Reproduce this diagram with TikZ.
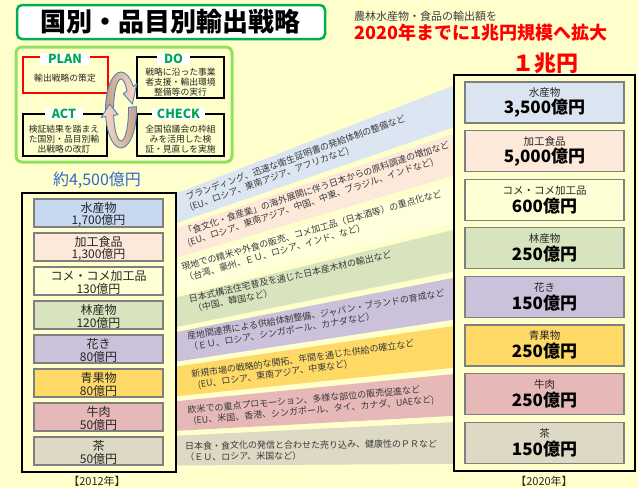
\documentclass[tikz,border=0pt]{standalone}
\usepackage{fontspec}
\setmainfont{Noto Sans CJK JP}
\usetikzlibrary{calc}
\definecolor{bgy}{HTML}{FFFFCC}
\definecolor{bxg}{HTML}{7F7F7F}
\definecolor{txtd}{HTML}{262626}
\definecolor{txtm}{HTML}{3A3A3A}
\definecolor{titleg}{HTML}{00B050}
\definecolor{pdcag}{HTML}{92E060}
\definecolor{pgreen}{HTML}{00A651}
\definecolor{redt}{HTML}{FF0000}
\definecolor{bluet}{HTML}{3366CC}
\definecolor{arrdark}{HTML}{C4A088}
\definecolor{arrlight}{HTML}{FBDCCB}
\definecolor{arrblue}{HTML}{4F81BD}
\definecolor{c1}{HTML}{C6D9F1}
\definecolor{c1r}{HTML}{DBE5F1}
\definecolor{c2}{HTML}{FDE9D9}
\definecolor{c3}{HTML}{FFFFD5}
\definecolor{c4}{HTML}{D7E4BD}
\definecolor{c5}{HTML}{CCC1DA}
\definecolor{c6}{HTML}{FFD966}
\definecolor{c7}{HTML}{E6B9B8}
\definecolor{c8}{HTML}{DDD9C4}
\definecolor{k1}{HTML}{DCE6F2}
\definecolor{k2}{HTML}{FDE9D9}
\definecolor{k3}{HTML}{FFFFDC}
\definecolor{k4}{HTML}{D8E4BE}
\definecolor{k5}{HTML}{CCC1DA}
\definecolor{k6}{HTML}{FFD966}
\definecolor{k7}{HTML}{E6B9B8}
\definecolor{k8}{HTML}{DDD9C4}
\pgfdeclarelayer{bgl}
\pgfdeclarelayer{bandl}
\pgfdeclarelayer{framel}
\pgfsetlayers{bgl,bandl,framel,main}
\newcommand\mklbox[5]{%
  \node[lbox, fill=#3] (#1) at (98.5,#2+14) {};
  \node[ltxt] (#1n) at (98.5,#2+9) {#4};
  \node[ltxt] (#1a) at (98.5,#2+22) {#5};
}
\newcommand\mkrbox[5]{%
  \node[rbox, fill=#3] (#1) at (544.5,#2+20.5) {};
  \node[rname] (#1n) at (544.5,#2+11) {#4};
  \node[ramt] (#1a) at (544.5,#2+26.5) {#5};
}
\begin{document}
\begin{tikzpicture}[x=1pt,y=-1pt,
  lbox/.style={draw=bxg, line width=1.1pt, minimum width=129pt, minimum height=28pt, inner sep=0pt},
  rbox/.style={draw=bxg, line width=1.3pt, minimum width=159pt, minimum height=41pt, inner sep=0pt},
  ltxt/.style={inner sep=0pt, font=\fontsize{12}{12}\selectfont, text=txtd},
  rname/.style={inner sep=0pt, font=\fontsize{10.5}{10.5}\selectfont, text=txtd},
  ramt/.style={inner sep=0pt, font=\bfseries\fontsize{17}{17}\selectfont, text=black},
  btxt/.style={inner sep=0pt, anchor=west, align=left, font=\fontsize{9}{11}\selectfont, text=txtm},
  pbox/.style={draw=black, line width=1.2pt, fill=bgy, inner sep=0pt},
  ptxt/.style={inner sep=0pt, align=center, font=\fontsize{8.8}{10}\selectfont, text=txtd},
  plab/.style={fill=white, inner sep=0pt, minimum height=12pt, font=\bfseries\fontsize{12.5}{12.5}\selectfont, text=pgreen},
  colframe/.style={draw=black, line width=1.1pt, fill=bgy},
  yeartxt/.style={inner sep=0pt, font=\fontsize{11}{11}\selectfont, text=txtd},
  arrshape/.style={draw=arrblue, line width=0.9pt}
]
\begin{pgfonlayer}{bgl}
\fill[bgy] (0,0) rectangle (638,488);
\end{pgfonlayer}
\useasboundingbox (0,0) rectangle (638,488);

% title
\node[draw=titleg, line width=2.5pt, rounded corners=5pt, fill=white,
      minimum width=308pt, minimum height=34pt, inner sep=0pt,
      font=\bfseries\fontsize{26}{26}\selectfont] (title) at (171,22) {国別・品目別輸出戦略};
\node[anchor=west, inner sep=0pt, text=txtm, font=\fontsize{11}{11}\selectfont] (sub1) at (354,16) {農林水産物・食品の輸出額を};
\node[anchor=west, inner sep=0pt, text=redt, font=\bfseries\fontsize{18}{18}\selectfont] (sub2) at (354,33) {2020年までに1兆円規模へ拡大};
\node[inner sep=0pt, text=redt, font=\bfseries\fontsize{22}{22}\selectfont] (cho) at (545,63) {１兆円};
\node[inner sep=0pt, text=bluet, font=\fontsize{16}{16}\selectfont] (oku) at (97,180) {約4,500億円};

% PDCA
\node[draw=pdcag, line width=3pt, rounded corners=6pt, fill=bgy, minimum width=216pt, minimum height=115pt, inner sep=0pt] (pdca) at (124,104.5) {};
\node[pbox, draw=redt, minimum width=85pt, minimum height=36pt] (plan) at (65.5,75) {};
\node[pbox, minimum width=87pt, minimum height=41pt] (do) at (180.5,77.5) {};
\node[pbox, minimum width=84pt, minimum height=42pt] (act) at (65,135) {};
\node[pbox, minimum width=87pt, minimum height=42pt] (check) at (180.5,135) {};
\node[ptxt] (plant) at (65,78) {輸出戦略の策定};
\node[ptxt] (dot) at (180.5,82) {戦略に沿った事業\\者支援・輸出環境\\整備等の実行};
\node[ptxt] (actt) at (64,139) {検証結果を踏まえ\\た国別・品目別輸\\出戦略の改訂};
\node[ptxt] (checkt) at (180.5,139) {全国協議会の枠組\\みを活用した検\\証・見直しを実施};
\node[plab, minimum width=50pt] (planl) at (65,59) {PLAN};
\node[plab, minimum width=33pt] (dol) at (173.5,59) {DO};
\node[plab, minimum width=38pt] (actl) at (64,114) {ACT};
\node[plab, minimum width=53pt] (checkl) at (178.5,114) {CHECK};

% cycle arrows
\coordinate (cc) at (121,110);
\shadedraw[arrshape, left color=arrdark, right color=arrlight]
  ($(cc)+(180:15.5 and 38)$) arc[start angle=180, end angle=322, x radius=15.5, y radius=38]
  -- ($(cc)+(322:20 and 42.5)$) -- ($(cc)+(350:11.5 and 34.5)$) -- ($(cc)+(322:3 and 26.5)$)
  -- ($(cc)+(322:7.5 and 31)$) arc[start angle=322, end angle=180, x radius=7.5, y radius=31] -- cycle;
\shadedraw[arrshape, left color=arrlight, right color=arrdark]
  ($(cc)+(-5:15.5 and 38)$) arc[start angle=-5, end angle=170, x radius=15.5, y radius=38]
  -- ($(cc)+(170:20 and 42.5)$) -- ($(cc)+(190:11.5 and 34.5)$) -- ($(cc)+(170:3 and 26.5)$)
  -- ($(cc)+(170:7.5 and 31)$) arc[start angle=170, end angle=-5, x radius=7.5, y radius=31] -- cycle;

% left boxes
\mklbox{L1}{199}{c1}{水産物}{1,700億円}
\mklbox{L2}{233}{c2}{加工食品}{1,300億円}
\mklbox{L3}{267}{c3}{コメ・コメ加工品}{130億円}
\mklbox{L4}{301}{c4}{林産物}{120億円}
\mklbox{L5}{335}{c5}{花き}{80億円}
\mklbox{L6}{369}{c6}{青果物}{80億円}
\mklbox{L7}{403}{c7}{牛肉}{50億円}
\mklbox{L8}{437}{c8}{茶}{50億円}
% right boxes
\mkrbox{R1}{82}{c1r}{水産物}{3,500億円}
\mkrbox{R2}{130.6}{c2}{加工食品}{5,000億円}
\mkrbox{R3}{179.2}{c3}{コメ・コメ加工品}{600億円}
\mkrbox{R4}{227.8}{c4}{林産物}{250億円}
\mkrbox{R5}{276.4}{c5}{花き}{150億円}
\mkrbox{R6}{325}{c6}{青果物}{250億円}
\mkrbox{R7}{373.6}{c7}{牛肉}{250億円}
\mkrbox{R8}{422.2}{c8}{茶}{150億円}

\node[yeartxt] (y2012) at (97,481) {【2012年】};
\node[yeartxt] (y2020) at (544,481) {【2020年】};

% frames
\begin{pgfonlayer}{framel}
\draw[colframe] (22,193) rectangle (176,472);
\draw[colframe] (454,75) rectangle (635,471);
\end{pgfonlayer}

% bands
\begin{pgfonlayer}{bandl}
\foreach \i in {1,...,8}{
  \fill[k\i] (L\i.north east) -- (R\i.north west) -- (R\i.south west) -- (L\i.south east) -- cycle;
}
\end{pgfonlayer}

% band texts
\node[btxt, rotate=20] (t1) at (188,203) {ブランディング、迅速な衛生証明書の発給体制の整備など\\(EU、ロシア、東南アジア、アフリカなど)};
\node[btxt, rotate=18.5] (t2) at (186,238.5) {「食文化・食産業」の海外展開に伴う日本からの原料調達の増加など\\(EU、ロシア、東南アジア、中国、中東、ブラジル、インドなど)};
\node[btxt, rotate=16] (t3) at (183,273) {現地での精米や外食の販売、コメ加工品（日本酒等）の重点化など\\（台湾、豪州、ＥＵ、ロシア、インド、など）};
\node[btxt, rotate=12.4] (t4) at (190,304.5) {日本式構法住宅普及を通じた日本産木材の輸出など\\\hspace*{2pt}（中国、韓国など）};
\node[btxt, rotate=9.6] (t5) at (188,342) {産地間連携による供給体制整備、ジャパン・ブランドの育成など\\（ＥＵ、ロシア、シンガポール、カナダなど）};
\node[btxt, rotate=8] (t6) at (192,380.5) {新規市場の戦略的な開拓、年間を通じた供給の確立など\\\hspace*{5pt}(EU、ロシア、東南アジア、中東など)};
\node[btxt, rotate=5] (t7) at (188,416) {欧米での重点プロモーション、多様な部位の販売促進など\\\hspace*{5pt}(EU、米国、香港、シンガポール、タイ、カナダ、UAEなど)};
\node[btxt, rotate=0.5] (t8) at (185,451.5) {日本食・食文化の発信と合わせた売り込み、健康性のＰＲなど\\（ＥＵ、ロシア、米国など）};
\end{tikzpicture}
\end{document}
